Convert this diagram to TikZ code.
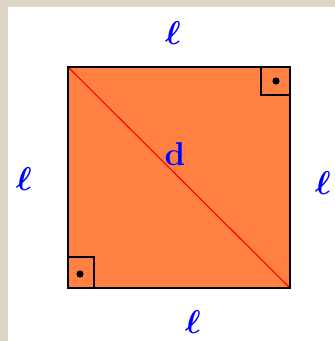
\RequirePackage{fix-cm}
\documentclass[tikz,border=0pt]{standalone}
\usepackage{bm}
\definecolor{sqorange}{RGB}{255,128,64}
\definecolor{beige}{RGB}{222,214,196}
\begin{document}
\begin{tikzpicture}[x=1pt,y=-1pt,
  lbl/.style={text=blue,font=\fontsize{33}{33}\selectfont\boldmath,inner sep=0pt},
  anglemark/.style={draw=black,line width=1.4pt}]
\useasboundingbox (0,0) rectangle (335,341);
\fill[white] (0,0) rectangle (335,341);
\fill[beige] (0,0) rectangle (335,7);
\fill[beige] (0,0) rectangle (8,341);
\coordinate (A) at (68,67);
\coordinate (B) at (290,67);
\coordinate (C) at (290,288);
\coordinate (D) at (68,288);
\fill[sqorange] (A) rectangle (C);
\draw[red,line width=1.1pt] (A) -- (C);
\draw[anglemark] (261,67) |- (290,95);
\draw[anglemark] (68,257) -| (94,288);
\fill (276,81) circle (3.6);
\fill (80,274) circle (3.6);
\draw[line width=1.6pt] (A) rectangle (C);
\node[lbl] (top) at (173,33) {$\bm{\ell}$};
\node[lbl] (left) at (24,179) {$\bm{\ell}$};
\node[lbl] (right) at (323,183) {$\bm{\ell}$};
\node[lbl] (bottom) at (193,322) {$\bm{\ell}$};
\node[text=blue,font=\fontsize{33}{33}\selectfont\bfseries,inner sep=0pt] (d) at (175,154) {d};
\end{tikzpicture}
\end{document}
